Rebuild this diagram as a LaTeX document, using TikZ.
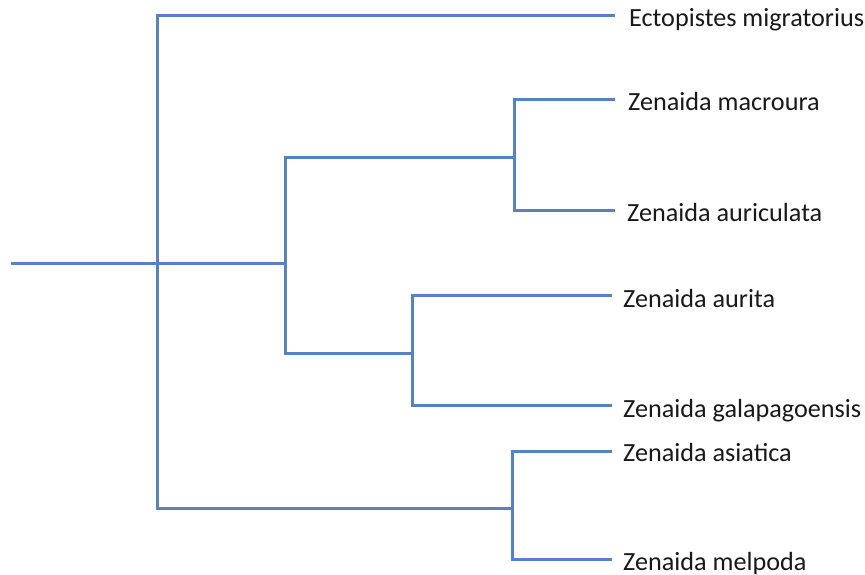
\documentclass[tikz,border=0pt]{standalone}
\usepackage{fontspec}
\setmainfont{Carlito}
\definecolor{branch}{RGB}{88,130,190}
\definecolor{txt}{RGB}{25,25,25}
\begin{document}
\begin{tikzpicture}[x=1pt,y=-1pt,
  edge/.style={draw=branch,line width=3pt,line cap=butt,line join=miter},
  taxon/.style={anchor=base west,inner sep=0pt,text=txt,font=\fontsize{26.2}{30}\selectfont}]
\useasboundingbox[fill=white] (0,0) rectangle (865,575);
% internal nodes
\coordinate (r0) at (11,263);
\coordinate (n1) at (157,263);
\coordinate (n2) at (285,263);
\coordinate (n3) at (514,158);
\coordinate (n4) at (412,353);
\coordinate (n5) at (512,508);
% leaf ends
\coordinate (l1) at (615,16);
\coordinate (l2) at (615,100);
\coordinate (l3) at (615,210);
\coordinate (l4) at (612,295);
\coordinate (l5) at (612,405);
\coordinate (l6) at (612,451);
\coordinate (l7) at (612,559);
% branches
\draw[edge] (r0) -- (n1);
\draw[edge] (n1) |- (l1);
\draw[edge] (n1) |- (n5);
\draw[edge] (n1) -- (n2);
\draw[edge] (n2) |- (n3);
\draw[edge] (n2) |- (n4);
\draw[edge] (n3) |- (l2);
\draw[edge] (n3) |- (l3);
\draw[edge] (n4) |- (l4);
\draw[edge] (n4) |- (l5);
\draw[edge] (n5) |- (l6);
\draw[edge] (n5) |- (l7);
% labels
\node[taxon] (t1) at (629,27) {Ectopistes migratorius};
\node[taxon] (t2) at (628,111) {Zenaida macroura};
\node[taxon] (t3) at (627,221) {Zenaida auriculata};
\node[taxon] (t4) at (623,307) {Zenaida aurita};
\node[taxon] (t5) at (623,417) {Zenaida galapagoensis};
\node[taxon] (t6) at (623,461) {Zenaida asiatica};
\node[taxon] (t7) at (623,570) {Zenaida melpoda};
\end{tikzpicture}
\end{document}
